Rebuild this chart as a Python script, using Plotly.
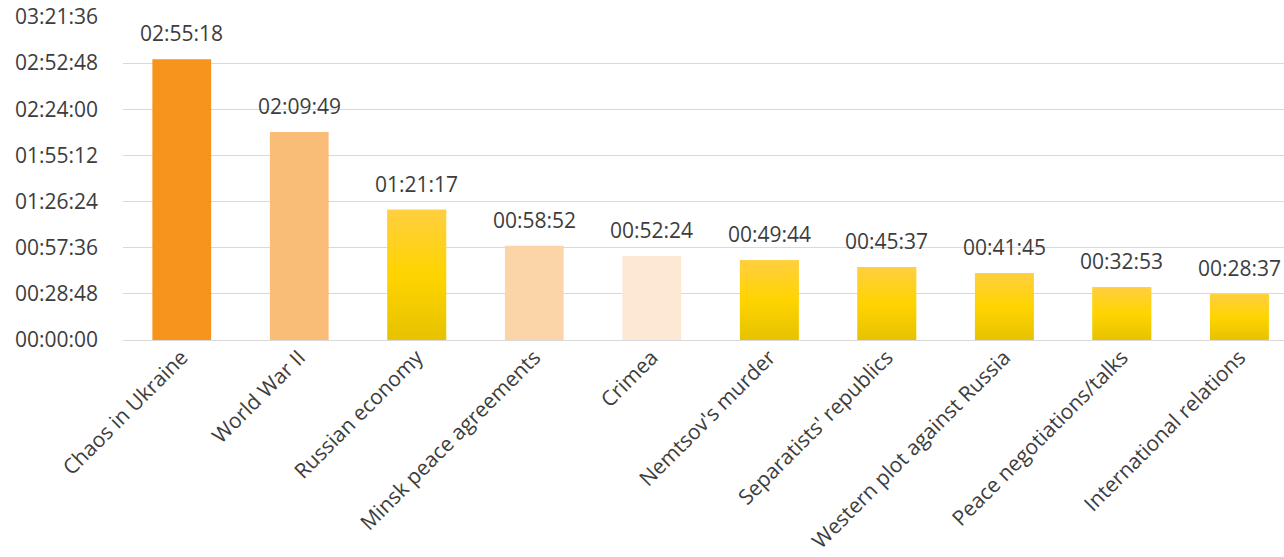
import plotly.graph_objects as go

categories = ["Chaos in Ukraine", "World War II", "Russian economy", "Minsk peace agreements",
              "Crimea", "Nemtsov's murder", "Separatists' republics", "Western plot against Russia",
              "Peace negotiations/talks", "International relations"]
durations = ["02:55:18", "02:09:49", "01:21:17", "00:58:52", "00:52:24",
             "00:49:44", "00:45:37", "00:41:45", "00:32:53", "00:28:37"]
bar_colors = ["#F7941D", "#F9BD78", "#FFD400", "#FBD5A8", "#FDE9D3",
              "#FFD400", "#FFD400", "#FFD400", "#FFD400", "#FFD400"]
gradient_bar = [False, False, True, False, False, True, True, True, True, True]
y_ticks = ["00:00:00", "00:28:48", "00:57:36", "01:26:24", "01:55:12", "02:24:00", "02:52:48", "03:21:36"]


def to_sec(s):
    h, m, sec = (int(p) for p in s.split(":"))
    return h * 3600 + m * 60 + sec


values = [to_sec(d) for d in durations]
tick_vals = [to_sec(t) for t in y_ticks]
xs = list(range(len(categories)))
BW = 0.5

FONT = "Open Sans"
TXT = "#3D3D3D"

fig = go.Figure()
fig.add_trace(go.Bar(
    x=xs, y=values, width=BW,
    marker=dict(color=bar_colors, line=dict(width=0)),
    hoverinfo="skip", showlegend=False,
))

for i, v in enumerate(values):
    if not gradient_bar[i]:
        continue
    x0, x1 = xs[i] - BW / 2, xs[i] + BW / 2
    fig.add_trace(go.Scatter(
        x=[x0, x1, x1, x0, x0], y=[0, 0, v, v, 0],
        mode="none", fill="toself",
        fillgradient=dict(type="vertical",
                          colorscale=[[0, "#E6C200"], [0.5, "#FFD400"], [1, "#FFCF40"]]),
        hoverinfo="skip", showlegend=False,
    ))

for x, v, lab in zip(xs, values, durations):
    fig.add_annotation(x=x, y=v, text=lab, showarrow=False, yanchor="middle",
                       yshift=26, font=dict(family=FONT, size=21, color=TXT))

fig.update_layout(
    width=1284, height=557,
    margin=dict(l=123, r=0, t=17, b=217),
    paper_bgcolor="white", plot_bgcolor="white",
    font=dict(family=FONT, color=TXT, size=21),
    bargap=0.5,
    xaxis=dict(
        tickmode="array", tickvals=xs, ticktext=categories,
        range=[-0.5, 9.38], tickangle=-45, showgrid=False, zeroline=False,
        showline=False, ticks="", tickfont=dict(family=FONT, size=21, color=TXT),
    ),
    yaxis=dict(
        tickmode="array", tickvals=tick_vals, ticktext=y_ticks,
        range=[0, tick_vals[-1]], showgrid=True, gridcolor="#D9D9D9", gridwidth=1,
        zeroline=True, zerolinecolor="#D9D9D9", zerolinewidth=1, showline=False,
        ticks="", ticklabelstandoff=24,
        tickfont=dict(family=FONT, size=21, color=TXT),
    ),
)

fig.write_html("out.html")
